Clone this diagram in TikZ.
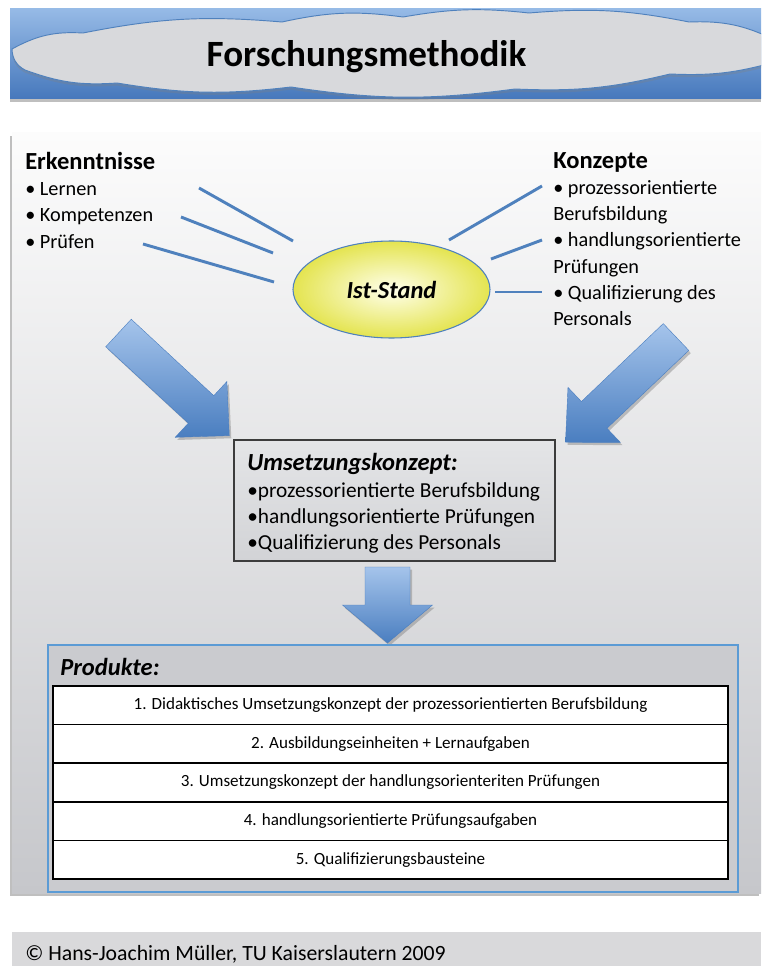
\documentclass[tikz,border=0pt]{standalone}
\usepackage{fontspec}
\setmainfont{Carlito}
\usetikzlibrary{shapes.geometric,shadows}
\definecolor{rayblue}{RGB}{79,129,189}
\definecolor{headertop}{RGB}{150,186,230}
\definecolor{headerbottom}{RGB}{70,120,188}
\definecolor{cloudgray}{RGB}{216,217,220}
\definecolor{paneltop}{RGB}{252,252,252}
\definecolor{panelbottom}{RGB}{198,199,203}
\definecolor{arrowlight}{RGB}{165,196,235}
\definecolor{arrowdark}{RGB}{74,126,192}
\definecolor{istyellow}{RGB}{228,228,80}
\definecolor{istlight}{RGB}{255,255,235}
\definecolor{boxtop}{RGB}{228,229,231}
\definecolor{boxbottom}{RGB}{210,211,214}
\definecolor{boxline}{RGB}{60,60,60}
\definecolor{produktfill}{RGB}{202,203,207}
\definecolor{produktline}{RGB}{91,155,213}
\definecolor{footergray}{RGB}{217,217,219}
\begin{document}
\begin{tikzpicture}
[x=0.75pt,y=-0.75pt,
 titledecorate/.style={font=\fontsize{27.8}{32}\selectfont\bfseries,inner sep=0pt,anchor=base},
 headdecorate/.style={font=\fontsize{18.4}{22}\selectfont\bfseries,inner sep=0pt,anchor=base west},
 italicdecorate/.style={font=\fontsize{18.4}{22}\selectfont\bfseries\itshape,inner sep=0pt,anchor=base west},
 listdecorate/.style={font=\fontsize{15.2}{18}\selectfont,inner sep=0pt,anchor=base west},
 boxtextdecorate/.style={font=\fontsize{16}{19}\selectfont,inner sep=0pt,anchor=base west},
 rowdecorate/.style={draw=black,line width=1.2pt,fill=white,minimum width=506.25pt,
   minimum height=28.95pt,inner sep=0pt,font=\fontsize{12.8}{15}\selectfont},
 raydecorate/.style={draw=rayblue,line width=2.2pt},
 arrowdecorate/.style={top color=arrowlight,bottom color=arrowdark,draw=arrowdark,line width=0.3pt,
   drop shadow={opacity=0.45,shadow xshift=1.5pt,shadow yshift=-2pt}},
 ovaldecorate/.style={shape=ellipse,draw=rayblue,line width=0.8pt,inner color=istlight,outer color=istyellow,
   minimum width=147.75pt,minimum height=72.75pt,inner sep=0pt,font=\fontsize{18.4}{22}\selectfont\bfseries\itshape},
 conceptdecorate/.style={draw=boxline,line width=1.2pt,top color=boxtop,bottom color=boxbottom,
   minimum width=240.75pt,minimum height=90.75pt,inner sep=0pt},
 produktdecorate/.style={draw=produktline,line width=0.8pt,fill=produktfill,
   minimum width=517.5pt,minimum height=185.25pt,inner sep=0pt}]
\useasboundingbox (0,0) rectangle (761,966);
\begin{scope}
\clip (0,0) rectangle (761,966);
\fill[white] (0,0) rectangle (761,966);
%% header band with cloud
\path[top color=headertop,bottom color=headerbottom,
  drop shadow={opacity=0.5,shadow xshift=0pt,shadow yshift=-2.5pt}] (10,9) rectangle (761,99);
\draw[rayblue,line width=0.7pt,fill=cloudgray,drop shadow={opacity=0.3,shadow xshift=0pt,shadow yshift=-2pt}]
  (12,49) to[bend left=16] (83,33) to[bend left=8] (282,22) to[bend left=10] (403,17)
  to[bend left=8] (529,13) to[bend left=8] (689,22) to[bend left=14] (775,40)
  to[bend left=30] (775,62) to[bend left=9] (670,74) to[bend left=8] (515,89)
  to[bend left=8] (291,87) to[bend left=8] (117,83) to[bend left=12] (25,70)
  to[bend left=30] (12,49) -- cycle;
\node[titledecorate] (title) at (366.5,67) {Forschungsmethodik};
%% main panel and footer
\path[top color=paneltop,bottom color=panelbottom,
  drop shadow={opacity=0.5,shadow xshift=-1.5pt,shadow yshift=-2.5pt}] (12,133) rectangle (761,893);
\fill[footergray] (12,932) rectangle (761,966);
%% left and right lists
\node[headdecorate] (erk) at (25,170) {Erkenntnisse};
\foreach \name/\y/\txt in {erkA/196/Lernen, erkB/222/Kompetenzen, erkC/248/Prüfen}
  \node[listdecorate] (\name) at (25,\y) {\textbullet\ \txt};
\node[headdecorate] (kon) at (553,169) {Konzepte};
\foreach \name/\y/\txt in {konA/195/{\textbullet\ prozessorientierte}, konB/221/Berufsbildung,
  konC/247/{\textbullet\ handlungsorientierte}, konD/273/Prüfungen,
  konE/299/{\textbullet\ Qualifizierung des}, konF/325/Personals}
  \node[listdecorate] (\name) at (553,\y) {\txt};
%% Ist-Stand and rays
\node[ovaldecorate] (ist) at (391.5,289.5) {Ist-Stand};
\foreach \n/\xa/\ya/\xb/\yb in {1/199/188/293/241, 2/181/217/273/253, 3/143/244/274/282,
  4/449/240/542/186, 5/491/259/542/240, 6/495/292/542/292} {
  \coordinate (ray\n a) at (\xa,\ya);
  \coordinate (ray\n b) at (\xb,\yb);
  \draw[raydecorate] (ray\n a) -- (ray\n b);
}
%% block arrows
\foreach \x/\y/\ang/\len/\sw/\hw/\hl in {118.5/333/-42.8/112.5/37.5/76/38.5,
  676/337/-136.4/113/37/76/39.6, 387.5/567/-90/38/45/90/38} {
  \begin{scope}[shift={(\x,\y)},rotate=\ang]
    \path[arrowdecorate] (0,-\sw/2) -- (\len,-\sw/2) -- (\len,-\hw/2) -- ({\len+\hl},0)
      -- (\len,\hw/2) -- (\len,\sw/2) -- (0,\sw/2) -- cycle;
  \end{scope}
}
%% Umsetzungskonzept
\node[conceptdecorate] (umsetzung) at (394.5,500.5) {};
\node[italicdecorate] (umhead) at (247,470) {Umsetzungskonzept:};
\foreach \name/\y/\txt in {umA/497/prozessorientierte Berufsbildung,
  umB/523/handlungsorientierte Prüfungen, umC/549/Qualifizierung des Personals}
  \node[boxtextdecorate] (\name) at (247,\y) {\textbullet\txt};
%% Produkte
\node[produktdecorate] (produkte) at (393,768.5) {};
\node[italicdecorate] (prodhead) at (60,675) {Produkte:};
\foreach \i/\txt in {1/1. Didaktisches Umsetzungskonzept der prozessorientierten Berufsbildung,
  2/2. Ausbildungseinheiten + Lernaufgaben,
  3/3. Umsetzungskonzept der handlungsorienteriten Prüfungen,
  4/4. handlungsorientierte Prüfungsaufgaben,
  5/5. Qualifizierungsbausteine}
  \node[rowdecorate] (prod\i) at (390.5,{686+38.6*(\i-0.5)}) {\txt};
%% footer text
\node[listdecorate,font=\fontsize{16.3}{19}\selectfont] (footer) at (25,960)
  {© Hans-Joachim Müller, TU Kaiserslautern 2009};
\end{scope}
\end{tikzpicture}
\end{document}
